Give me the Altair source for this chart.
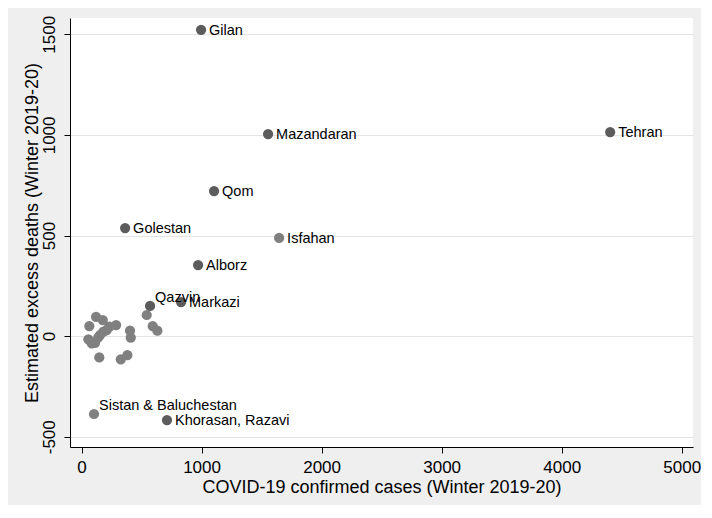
import altair as alt
import pandas as pd

# Labeled provinces
provinces = ["Gilan", "Mazandaran", "Tehran", "Qom", "Golestan", "Isfahan",
             "Alborz", "Qazvin", "Markazi", "Sistan & Baluchestan", "Khorasan, Razavi"]
prov_cases = [996, 1554, 4404, 1104, 363, 1646, 971, 571, 829, 104, 712]
prov_deaths = [1522, 1004, 1014, 721, 537, 488, 353, 150, 169, -387, -417]
prov_group = ["dark", "dark", "dark", "dark", "dark", "light",
              "dark", "dark", "dark", "light", "dark"]

# Unlabeled provinces (cluster near origin)
other_cases = [543, 593, 632, 121, 177, 65, 288, 232, 182, 404,
               410, 57, 140, 113, 148, 327, 382, 154, 85, 210]
other_deaths = [105, 50, 27, 96, 80, 50, 55, 47, 22, 27,
                -8, -16, -6, -33, -106, -115, -94, 5, -36, 30]

upper_labels = ["Qazvin", "Sistan & Baluchestan"]

x_ticks = [0, 1000, 2000, 3000, 4000, 5000]
y_ticks = [-500, 0, 500, 1000, 1500]

df = pd.DataFrame({
    "name": [""] * len(other_cases) + provinces,
    "cases": other_cases + prov_cases,
    "deaths": other_deaths + prov_deaths,
    "group": ["light"] * len(other_cases) + prov_group,
})
df["order"] = range(len(df))
labeled = df[df["name"] != ""]

FONT = "Liberation Sans, Arial, sans-serif"

x = alt.X("cases:Q",
          scale=alt.Scale(domain=[-96, 5094], nice=False, zero=False),
          axis=alt.Axis(title="COVID-19 confirmed cases (Winter 2019-20)",
                        values=x_ticks, labelExpr="'' + datum.value", grid=False,
                        labelFontSize=17, titleFontSize=18,
                        labelPadding=6, titlePadding=3, tickSize=6))
y = alt.Y("deaths:Q",
          scale=alt.Scale(domain=[-551, 1581], nice=False, zero=False),
          axis=alt.Axis(title="Estimated excess deaths (Winter 2019-20)",
                        values=y_ticks, labelExpr="'' + datum.value", grid=True,
                        labelAngle=270, labelAlign="center", labelBaseline="bottom",
                        labelFontSize=17, titleFontSize=18,
                        labelPadding=6, titlePadding=-1, tickSize=6))

points = alt.Chart(df).mark_circle(size=105, opacity=1).encode(
    x=x, y=y,
    color=alt.Color("group:N", scale=alt.Scale(domain=["dark", "light"],
                                               range=["#5c5c5c", "#808080"]),
                    legend=None),
    order=alt.Order("order:Q"),
)

right_text = alt.Chart(labeled).transform_filter(
    ~alt.FieldOneOfPredicate(field="name", oneOf=upper_labels)
).mark_text(align="left", baseline="middle", dx=8, dy=1, fontSize=14.5,
            font=FONT, color="black").encode(x="cases:Q", y="deaths:Q", text="name:N")

upper_text = alt.Chart(labeled).transform_filter(
    alt.FieldOneOfPredicate(field="name", oneOf=upper_labels)
).mark_text(align="left", baseline="alphabetic", dx=5, dy=-4, fontSize=14.5,
            font=FONT, color="black").encode(x="cases:Q", y="deaths:Q", text="name:N")

chart = alt.layer(points, right_text, upper_text).properties(
    width=623, height=429,
    background="#efefef",
    padding={"left": 62, "top": 10, "right": 8, "bottom": 58},
    autosize=alt.AutoSizeParams(type="none"),
).configure_view(
    fill="white", strokeWidth=0
).configure_axis(
    domainColor="black", tickColor="black", labelColor="black", titleColor="black",
    labelFont=FONT, titleFont=FONT, titleFontWeight="normal",
    gridColor="#e4e4e4", gridWidth=1, domainWidth=1, tickWidth=1,
)

chart.save("out.html", embed_options={"renderer": "svg", "actions": False})
